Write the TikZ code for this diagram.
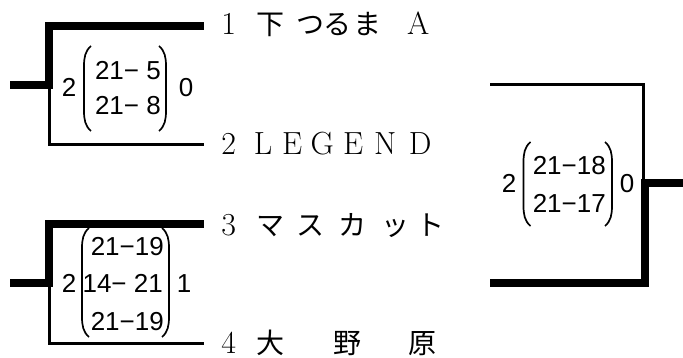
\documentclass[tikz,border=0pt]{standalone}
\usepackage{fontspec}
\newfontfamily\cjk{Noto Sans CJK JP}
\newfontfamily\scorefont{Liberation Sans}
\newcommand\pc[2]{\makebox[0pt][l]{\hspace*{#1pt}\makebox[0pt][c]{#2}}}
\newcommand\jc[1]{{\cjk\fontsize{28}{28}\selectfont #1}}
\newcommand\lpar[3]{\draw[parline] ({#1+7},#2) .. controls ({#1+1},{#2+5}) and (#1,{#2+12}) .. (#1,{#2+20}) -- (#1,{#3-20}) .. controls (#1,{#3-12}) and ({#1+1},{#3-5}) .. ({#1+7},#3);}
\newcommand\rpar[3]{\draw[parline] ({#1-7},#2) .. controls ({#1-1},{#2+5}) and (#1,{#2+12}) .. (#1,{#2+20}) -- (#1,{#3-20}) .. controls (#1,{#3-12}) and ({#1-1},{#3-5}) .. ({#1-7},#3);}
\begin{document}
\begin{tikzpicture}[x=1pt,y=-1pt,
  thickline/.style={line width=8pt,line join=miter},
  thinline/.style={line width=3pt,line join=miter},
  parline/.style={line width=1.7pt},
  lab/.style={anchor=base west,inner sep=0pt,font=\fontsize{32}{32}\selectfont},
  sc/.style={anchor=base east,inner sep=0pt,font=\scorefont\fontsize{26}{26}\selectfont},
  scc/.style={anchor=base,inner sep=0pt,font=\scorefont\fontsize{26}{26}\selectfont}]
\useasboundingbox (0,0) rectangle (683,358);
% coordinates
\coordinate (s1) at (10,84.7);
\coordinate (c1) at (49,84.7);
\coordinate (u1) at (49,26);
\coordinate (e1) at (204,26);
\coordinate (c2) at (49.5,84.7);
\coordinate (d2) at (49.5,144.5);
\coordinate (e2) at (204,144.5);
\coordinate (s3) at (10,283);
\coordinate (c3) at (49,283);
\coordinate (u3) at (49,224);
\coordinate (e3) at (204,224);
\coordinate (c4) at (49.5,283);
\coordinate (d4) at (49.5,343);
\coordinate (e4) at (204,343);
\coordinate (r1) at (490,85);
\coordinate (rc1) at (643.5,85);
\coordinate (rm1) at (643.5,183.5);
\coordinate (rs) at (683,183.5);
\coordinate (rm2) at (645,183.5);
\coordinate (rc2) at (645,283);
\coordinate (r2) at (490,283);
% bracket lines
\draw[thickline] (s1) -- (c1) -- (u1) -- (e1);
\draw[thinline] (c2) -- (d2) -- (e2);
\draw[thickline] (s3) -- (c3) -- (u3) -- (e3);
\draw[thinline] (c4) -- (d4) -- (e4);
\draw[thinline] (r1) -- (rc1) -- (rm1);
\draw[thickline] (rs) -- (rm2) -- (rc2) -- (r2);
% labels
\node[lab] (t1) at (222,35) {\makebox[216pt][l]{\pc{6.5}{1}\pc{48}{\jc{下}}\pc{88}{\jc{つ}}\pc{115}{\jc{る}}\pc{145}{\jc{ま}}\pc{196}{A}}};
\node[lab] (t2) at (222,155) {\makebox[216pt][l]{\pc{6.5}{2}\pc{41}{L}\pc{70}{E}\pc{100}{G}\pc{131}{E}\pc{163}{N}\pc{198}{D}}};
\node[lab] (t3) at (222,236) {\makebox[216pt][l]{\pc{6.5}{3}\pc{48}{\jc{マ}}\pc{88}{\jc{ス}}\pc{130}{\jc{カ}}\pc{173}{\jc{ッ}}\pc{208}{\jc{ト}}}};
\node[lab] (t4) at (222,353) {\makebox[216pt][l]{\pc{6.5}{4}\pc{48}{\jc{大}}\pc{125}{\jc{野}}\pc{200}{\jc{原}}}};
% score 1
\node[scc] (a1) at (69,97) {2};
\node[sc] (a2) at (161,80) {21− 5};
\node[sc] (a3) at (161,115) {21− 8};
\node[scc] (a4) at (186,97) {0};
\lpar{84}{46}{131}
\rpar{166}{46}{131}
% score 2
\node[scc] (b1) at (69,293) {2};
\node[sc] (b2) at (164,255) {21−19};
\node[sc] (b3) at (163,293) {14− 21};
\node[sc] (b4) at (164,330) {21−19};
\node[scc] (b5) at (184,293) {1};
\lpar{82}{228}{337}
\rpar{169}{228}{337}
% score 3
\node[scc] (f1) at (509,193) {2};
\node[sc] (f2) at (606,175) {21−18};
\node[sc] (f3) at (606,213) {21−17};
\node[scc] (f4) at (627,193) {0};
\lpar{523.5}{142}{226}
\rpar{612}{142}{226}
\end{tikzpicture}
\end{document}
